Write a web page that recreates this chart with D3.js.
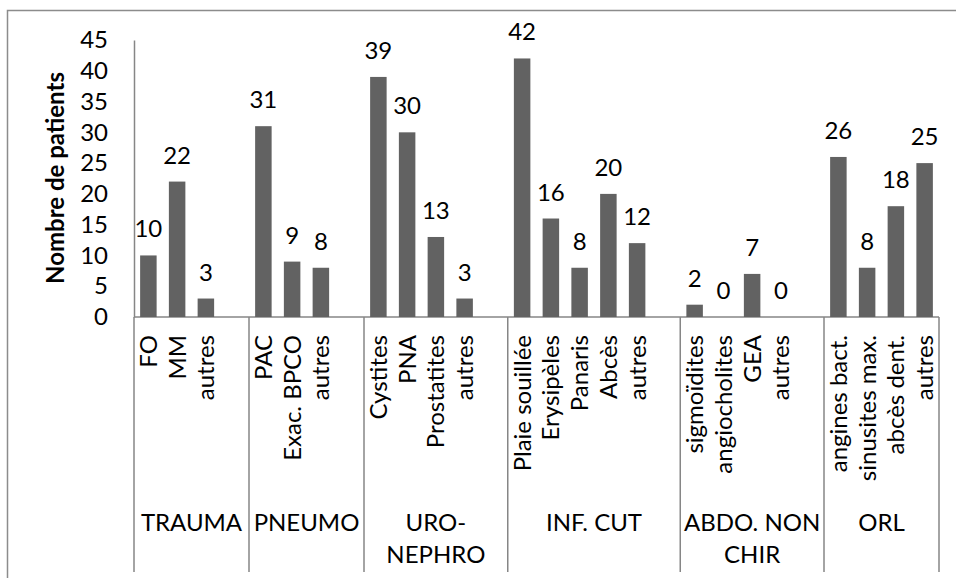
<!DOCTYPE html>
<html><head><meta charset="utf-8">
<script src="https://cdn.jsdelivr.net/npm/d3@7"></script>
<style>
html,body{margin:0;padding:0;background:#fff;}
svg{display:block;font-family:Lato,"Noto Sans",sans-serif;}
</style></head>
<body><svg id="c" width="956" height="578"></svg>
<script>
const groups = [["TRAUMA"],["PNEUMO"],["URO-","NEPHRO"],["INF. CUT"],["ABDO. NON","CHIR"],["ORL"]];
const groupSpans = [4,4,5,6,5,4];
const categories = ["FO","MM","autres","", "PAC","Exac. BPCO","autres","", "Cystites","PNA","Prostatites","autres","", "Plaie souillée","Erysipèles","Panaris","Abcès","autres","", "sigmoïdites","angiocholites","GEA","autres","", "angines bact.","sinusites max.","abcès dent.","autres"];
const values = [10,22,3,null, 31,9,8,null, 39,30,13,3,null, 42,16,8,20,12,null, 2,0,7,0,null, 26,8,18,25];
const yTicks = [0,5,10,15,20,25,30,35,40,45];
const yTitle = "Nombre de patients";

const svg = d3.select("#c");
const L = 134, R = 939, T = 40, B = 317, bottomLine = 572;
const axisCol = "#868686", barCol = "#626262", fs = 24;

svg.append("rect").attr("x",7.5).attr("y",10.5).attr("width",960).attr("height",600)
  .attr("fill","none").attr("stroke","#8c8c8c").attr("stroke-width",1.5);

const x = d3.scaleBand().domain(d3.range(categories.length)).range([L,R]).paddingInner(0.426).paddingOuter(0.213);
const y = d3.scaleLinear().domain([0,45]).range([B,T]);

// y axis
const ya = svg.append("g").attr("transform",`translate(${L},0)`)
  .call(d3.axisLeft(y).tickValues(yTicks).tickSize(0).tickPadding(26));
ya.select(".domain").attr("stroke",axisCol).attr("stroke-width",1.5);
ya.selectAll("text").attr("font-size",fs).attr("font-family","Lato").attr("fill","#000");

// x axis line
svg.append("line").attr("x1",L).attr("x2",R).attr("y1",B).attr("y2",B).attr("stroke",axisCol).attr("stroke-width",1.5);

// bars
const idx = d3.range(categories.length).filter(i=>values[i]!==null);
svg.append("g").selectAll("rect").data(idx).join("rect")
  .attr("x",i=>x(i)).attr("width",x.bandwidth())
  .attr("y",i=>y(values[i])).attr("height",i=>B-y(values[i]))
  .attr("fill",barCol);

// data labels
svg.append("g").selectAll("text").data(idx).join("text")
  .attr("x",i=>x(i)+x.bandwidth()/2).attr("y",i=>y(values[i])-18)
  .attr("text-anchor","middle").attr("font-size",fs).attr("fill","#000")
  .text(i=>values[i]);

// category labels
svg.append("g").selectAll("text").data(idx).join("text")
  .attr("transform",i=>`translate(${x(i)+x.bandwidth()/2},335) rotate(-90)`)
  .attr("text-anchor","end").attr("dy","0.35em").attr("font-size",fs).attr("fill","#000")
  .text(i=>categories[i]);

// group dividers and labels
const step = x.step();
let start = 0;
const bounds = [0];
groupSpans.forEach(s=>{start+=s; bounds.push(start);});
svg.append("g").selectAll("line").data(bounds).join("line")
  .attr("x1",b=>L+b*step).attr("x2",b=>L+b*step).attr("y1",B).attr("y2",bottomLine)
  .attr("stroke",axisCol).attr("stroke-width",1.5);
const gl = svg.append("g").selectAll("text").data(groups).join("text")
  .attr("x",(g,i)=>L+(bounds[i]+bounds[i+1])/2*step).attr("y",531)
  .attr("text-anchor","middle").attr("font-size",fs).attr("fill","#000");
gl.each(function(g){
  const t=d3.select(this);
  g.forEach((line,k)=>t.append("tspan").attr("x",t.attr("x")).attr("dy",k?32:0).text(line));
});

// y title
svg.append("text").attr("transform","translate(64,178) rotate(-90)")
  .attr("text-anchor","middle").attr("font-size",24).attr("font-weight","bold").attr("fill","#000")
  .text(yTitle);
</script></body></html>
